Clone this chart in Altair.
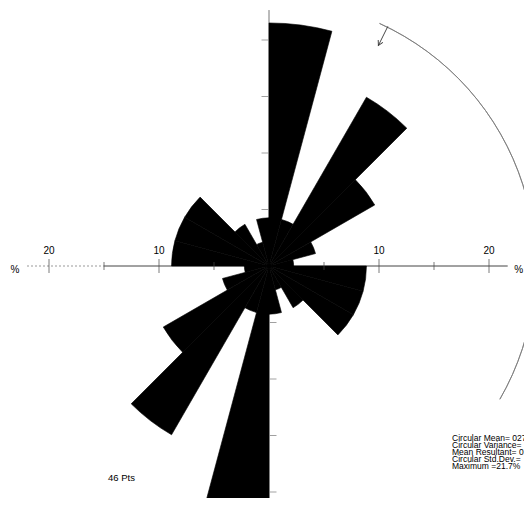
import math
import altair as alt
import pandas as pd

# ---- data ----
bin_start = list(range(0, 360, 15))
bin_width = 15
bin_pct = [21.7, 4.3, 17.4, 10.9, 4.3, 2.2, 8.7, 8.7, 8.7, 4.3, 2.2, 4.3,
           21.7, 4.3, 17.4, 10.9, 4.3, 2.2, 8.7, 8.7, 8.7, 4.3, 2.2, 4.3]

h_major = [-20, -10, 10, 20]
h_major_text = ["20", "10", "10", "20"]
h_minor = [-15, -5, 5, 15]
v_ticks_top = [5, 10, 15, 20]
v_ticks_bottom = [-5, -10, -15, -20]

mean_dir = 27
ring_r = 23.8
ring_from, ring_to = 24.5, 120
arrow_r_in = 21.9

n_label = "46 Pts"
stats_lines = ["Circular Mean= 027", "Circular Variance=", "Mean Resultant= 0",
               "Circular Std.Dev.=", "Maximum =21.7%"]

# ---- geometry of the view ----
W, H = 516, 490
cx, cy = 261, 258
kx, ky, kr = 11.0, 11.3, 11.2
FONT = "Liberation Sans"

xs = alt.Scale(domain=[-cx / kx, (W - cx) / kx], nice=False, zero=False)
ys = alt.Scale(domain=[-(H - cy) / ky, cy / ky], nice=False, zero=False)
ts = alt.Scale(domain=[0, 360], range=[0, 2 * math.pi])
rs = alt.Scale(type="linear", domain=[0, 25], range=[0, 25 * kr], zero=True)

X0 = alt.XDatum(0, type="quantitative", scale=xs, axis=None)
Y0 = alt.YDatum(0, type="quantitative", scale=ys, axis=None)

petal_df = pd.DataFrame({
    "start": bin_start,
    "end": [s + bin_width for s in bin_start],
    "pct": bin_pct,
})

petals = alt.Chart(petal_df).mark_arc(
    color="black", stroke="black", strokeWidth=0.6, clip=True
).encode(
    x=X0, y=Y0,
    theta=alt.Theta("start:Q", scale=ts, stack=None),
    theta2=alt.Theta2("end:Q"),
    radius=alt.Radius("pct:Q", scale=rs),
)

ring = alt.Chart(pd.DataFrame({"a": [ring_from], "b": [ring_to], "r": [ring_r]})).mark_arc(
    filled=False, color="#777777", strokeWidth=0.8, clip=True
).encode(
    x=X0, y=Y0,
    theta=alt.Theta("a:Q", scale=ts, stack=None),
    theta2=alt.Theta2("b:Q"),
    radius=alt.Radius("r:Q", scale=rs),
    radius2=alt.Radius2("r:Q"),
)

arrow_base = alt.Chart(pd.DataFrame({"t": [mean_dir], "r1": [ring_r], "r2": [arrow_r_in]})).transform_calculate(
    x1="datum.r1 * sin(datum.t * PI / 180)",
    y1="datum.r1 * cos(datum.t * PI / 180)",
    x2="datum.r2 * sin(datum.t * PI / 180)",
    y2="datum.r2 * cos(datum.t * PI / 180)",
)
arrow_line = arrow_base.mark_rule(color="#333333", strokeWidth=0.9).encode(
    x=alt.X("x1:Q", scale=xs, axis=None), y=alt.Y("y1:Q", scale=ys, axis=None),
    x2="x2:Q", y2="y2:Q",
)
arrow_head = arrow_base.mark_point(
    shape="M -0.55 -1 L 0 0 L 0.55 -1", filled=False, color="#333333",
    strokeWidth=0.9, size=90, angle=mean_dir, opacity=1,
).encode(
    x=alt.X("x2:Q", scale=xs, axis=None), y=alt.Y("y2:Q", scale=ys, axis=None),
)

# axis lines
h_line = alt.Chart(pd.DataFrame({"a": [-15.0], "b": [21.7]})).mark_rule(
    color="#444444", strokeWidth=1
).encode(x=alt.X("a:Q", scale=xs, axis=None), x2="b:Q", y=Y0)
h_line_faint = alt.Chart(pd.DataFrame({"a": [-22.0], "b": [-15.0]})).mark_rule(
    color="#999999", strokeWidth=1, strokeDash=[2, 2]
).encode(x=alt.X("a:Q", scale=xs, axis=None), x2="b:Q", y=Y0)
v_line = alt.Chart(pd.DataFrame({"a": [-22.0], "b": [22.65]})).mark_rule(
    color="#777777", strokeWidth=1, clip=True
).encode(y=alt.Y("a:Q", scale=ys, axis=None), y2="b:Q", x=X0)

# ticks
maj = alt.Chart(pd.DataFrame({"v": h_major})).mark_tick(
    orient="vertical", size=14, thickness=1, color="#444444"
).encode(x=alt.X("v:Q", scale=xs, axis=None), y=Y0)
mnr = alt.Chart(pd.DataFrame({"v": h_minor})).mark_tick(
    orient="vertical", size=8, thickness=1, color="#444444"
).encode(x=alt.X("v:Q", scale=xs, axis=None), y=Y0)
vt_top = alt.Chart(pd.DataFrame({"v": v_ticks_top})).mark_tick(
    orient="horizontal", size=7, thickness=1, color="#777777", xOffset=-4
).encode(y=alt.Y("v:Q", scale=ys, axis=None), x=X0)
vt_bot = alt.Chart(pd.DataFrame({"v": v_ticks_bottom})).mark_tick(
    orient="horizontal", size=7, thickness=1, color="#777777", xOffset=4
).encode(y=alt.Y("v:Q", scale=ys, axis=None), x=X0)

labels = alt.Chart(pd.DataFrame({"v": h_major, "t": h_major_text})).mark_text(
    font=FONT, fontSize=10, dy=-15, color="#000000"
).encode(x=alt.X("v:Q", scale=xs, axis=None), y=Y0, text="t:N")

pct_df = pd.DataFrame({"v": [-23.1, 22.7], "t": ["%", "%"]})
pct_labels = alt.Chart(pct_df).mark_text(font=FONT, fontSize=10, dy=4, color="#000000").encode(
    x=alt.X("v:Q", scale=xs, axis=None), y=Y0, text="t:N"
)

npts = alt.Chart(pd.DataFrame({"x": [-14.64], "y": [-18.76], "t": [n_label]})).mark_text(
    font=FONT, fontSize=9.5, align="left", baseline="middle", color="#000000"
).encode(x=alt.X("x:Q", scale=xs, axis=None), y=alt.Y("y:Q", scale=ys, axis=None), text="t:N")

stats_df = pd.DataFrame({"i": list(range(len(stats_lines))), "t": stats_lines})
stats = alt.Chart(stats_df).transform_calculate(
    x="16.64", y="-15.22 - datum.i * 0.62"
).mark_text(
    font=FONT, fontSize=8.5, align="left", baseline="middle", color="#000000", clip=True
).encode(x=alt.X("x:Q", scale=xs, axis=None), y=alt.Y("y:Q", scale=ys, axis=None), text="t:N")

chart = alt.layer(
    h_line_faint, h_line, v_line, petals, ring, arrow_line, arrow_head,
    maj, mnr, vt_top, vt_bot, labels, pct_labels, npts, stats,
).properties(
    width=W, height=H, padding=0,
    autosize=alt.AutoSizeParams(type="none"),
).configure_view(stroke=None)

chart.save("out.html", embed_options={"renderer": "svg", "actions": False})
